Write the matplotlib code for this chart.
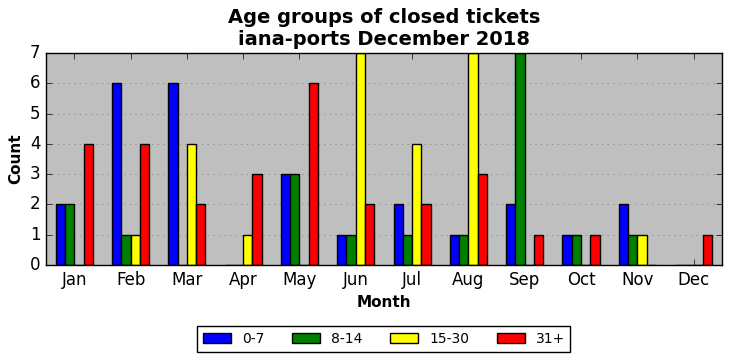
import numpy as np
import matplotlib
matplotlib.use("Agg")
import matplotlib.pyplot as plt

months = ["Jan", "Feb", "Mar", "Apr", "May", "Jun", "Jul", "Aug", "Sep", "Oct", "Nov", "Dec"]
groups = ["0-7", "8-14", "15-30", "31+"]
age_0_7 = [2, 6, 6, 0, 3, 1, 2, 1, 2, 1, 2, 0]
age_8_14 = [2, 1, 0, 0, 3, 1, 1, 1, 7, 1, 1, 0]
age_15_30 = [0, 1, 4, 1, 0, 7, 4, 7, 0, 0, 1, 0]
age_31p = [4, 4, 2, 3, 6, 2, 2, 3, 1, 1, 0, 1]
colors = ["blue", "green", "yellow", "red"]

plt.style.use("classic")
fig, ax = plt.subplots(figsize=(7.32, 3.61), dpi=100)
fig.patch.set_facecolor("white")
ax.set_facecolor("#bfbfbf")

x = np.arange(len(months))
width = 0.165
series = [age_0_7, age_8_14, age_15_30, age_31p]
for i, (vals, name, c) in enumerate(zip(series, groups, colors)):
    ax.bar(x + (i - 1.5) * width, vals, width, color=c, edgecolor="black",
           linewidth=1, label=name, align="center", zorder=2)

ax.set_xlim(-0.5, 11.5)
ax.set_ylim(0, 7)
ax.set_xticks(x)
ax.set_xticklabels(months)
ax.yaxis.grid(True, linestyle=":", color="gray", zorder=0)
ax.set_axisbelow(True)
ax.tick_params(labelsize=12)
ax.set_xlabel("Month", fontsize=11, fontweight="bold")
ax.set_ylabel("Count", fontsize=11, fontweight="bold")
ax.set_title("Age groups of closed tickets\niana-ports December 2018",
             fontsize=14, fontweight="bold", y=1.005)

ax.legend(loc="upper center", bbox_to_anchor=(0.5, -0.29), ncol=4,
          fontsize=10, frameon=True, fancybox=False, borderaxespad=0,
          handlelength=2.0, columnspacing=2.0, borderpad=0.4)

fig.subplots_adjust(left=0.063, right=0.986, top=0.853, bottom=0.266)
fig.savefig("out.png", dpi=100, facecolor="white")
